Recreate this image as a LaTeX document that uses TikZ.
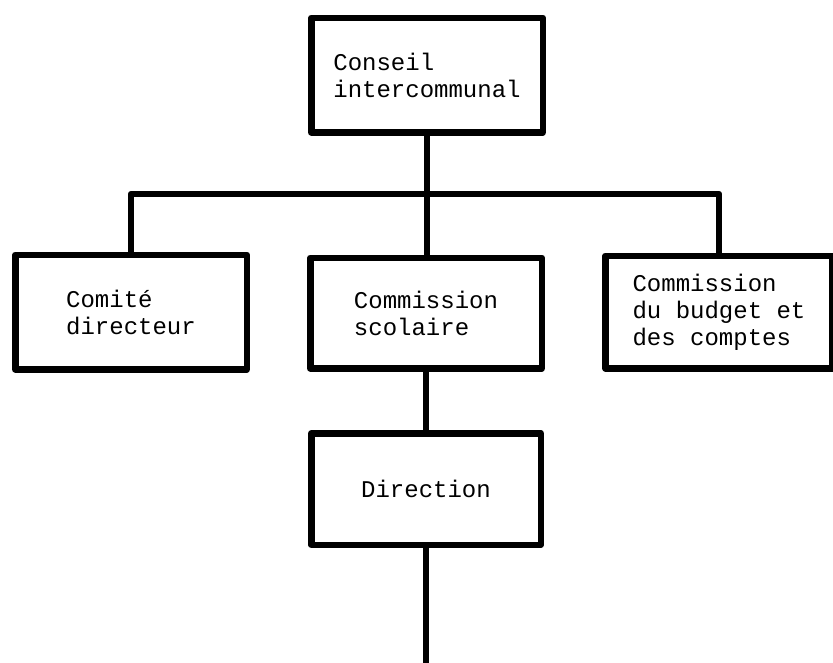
\documentclass[tikz,border=0pt]{standalone}
\usepackage{fontspec}
\setmainfont{Liberation Mono}
\begin{document}
\begin{tikzpicture}[x=1pt,y=-1pt,
  box/.style={draw,line width=6.5pt,line join=round,align=left,
    font=\fontsize{24}{27}\selectfont,inner sep=0pt},
  link/.style={line width=6.5pt,line join=round}]
\useasboundingbox (0,0) rectangle (833,662);
\node[box,minimum width=231.5pt,minimum height=114.5pt] (top) at (427,75) {Conseil\\intercommunal};
\node[box,minimum width=231.5pt,minimum height=114.5pt] (comite) at (131,312) {Comité\\directeur};
\node[box,minimum width=231.5pt,minimum height=110.5pt] (commission) at (426,313) {Commission\\scolaire};
\node[box,minimum width=227pt,minimum height=112.5pt] (budget) at (719,312) {Commission\\du budget et\\des comptes};
\node[box,minimum width=229.5pt,minimum height=111.5pt] (direction) at (426,489) {Direction};
\coordinate (bar) at (427,194);
\coordinate (tail) at (426,670);
\draw[link] (top.south) -- (top.south |- commission.north);
\draw[link] (comite.north) -- (comite.north |- bar) -- (budget.north |- bar) -- (budget.north);
\draw[link] (commission.south) -- (direction.north);
\draw[link] (direction.south) -- (tail);
\end{tikzpicture}
\end{document}
